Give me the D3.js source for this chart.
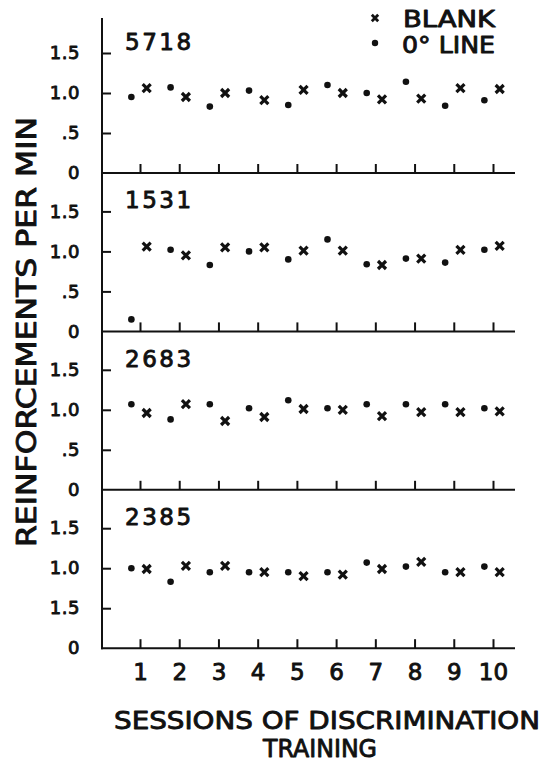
<!DOCTYPE html>
<html>
<head>
<meta charset="utf-8">
<script src="https://cdn.jsdelivr.net/npm/d3@7"></script>
<style>
  html, body { margin: 0; padding: 0; background: #fff; }
  svg { display: block; }
  text { fill: #111; font-family: "DejaVu Sans", sans-serif; }
</style>
</head>
<body>
<svg id="chart" width="546" height="763"></svg>
<script>
// ---------------- data ----------------
const sessions = [1, 2, 3, 4, 5, 6, 7, 8, 9, 10];
const subjects = ["5718", "1531", "2683", "2385"];
const lineValues = [   // "0° LINE" (dots)
  [0.95, 1.07, 0.83, 1.03, 0.85, 1.10, 1.00, 1.14, 0.84, 0.91],
  [0.15, 1.02, 0.83, 1.00, 0.90, 1.15, 0.84, 0.91, 0.86, 1.02],
  [1.07, 0.88, 1.07, 1.02, 1.12, 1.02, 1.07, 1.07, 1.07, 1.02],
  [1.00, 0.83, 0.95, 0.95, 0.95, 0.95, 1.07, 1.02, 0.95, 1.02]
];
const blankValues = [  // "BLANK" (crosses)
  [1.06, 0.95, 1.00, 0.91, 1.04, 1.00, 0.92, 0.93, 1.06, 1.05],
  [1.06, 0.95, 1.05, 1.05, 1.01, 1.01, 0.83, 0.91, 1.02, 1.07],
  [0.96, 1.07, 0.86, 0.91, 1.01, 1.00, 0.92, 0.97, 0.97, 0.98],
  [0.99, 1.03, 1.03, 0.95, 0.90, 0.92, 0.99, 1.08, 0.95, 0.95]
];
const yTickValues = [0, 0.5, 1.0, 1.5];
const yTickLabels = [
  ["0", ".5", "1.0", "1.5"],
  ["0", ".5", "1.0", "1.5"],
  ["0", ".5", "1.0", "1.5"],
  ["0", "1.5", "1.0", "1.5"]
];
const xTickLabels = ["1", "2", "3", "4", "5", "6", "7", "8", "9", "10"];
const legendLabels = ["BLANK", "0° LINE"];
const yTitle = "REINFORCEMENTS PER MIN";
const xTitle = ["SESSIONS OF DISCRIMINATION", "TRAINING"];

// ---------------- layout ----------------
const svg = d3.select("#chart");
const axisLeftX = 102, axisRightX = 515;
const axisTop = 18;
const firstBottom = 173, panelStep = 158.4, panelH = 120;
const dotOffset = -0.22, crossOffset = 0.17;
const ink = "#111";

const x = d3.scaleLinear().domain([1, 10]).range([140, 493]);

function styleText(sel, size) {
  sel.attr("font-size", size)
     .attr("font-family", "DejaVu Sans, sans-serif")
     .attr("font-weight", "normal")
     .attr("fill", ink)
     .attr("stroke", ink)
     .attr("stroke-width", 0.9)
     .attr("stroke-linejoin", "round");
  return sel;
}

subjects.forEach((name, i) => {
  const bottom = firstBottom + i * panelStep;
  const y = d3.scaleLinear().domain([0, 1.5]).range([bottom, bottom - panelH]);
  const g = svg.append("g");

  // baseline
  g.append("line")
    .attr("x1", axisLeftX - 1).attr("x2", axisRightX)
    .attr("y1", bottom).attr("y2", bottom)
    .attr("stroke", ink).attr("stroke-width", 2);

  // y axis ticks (inside) + labels
  const yAxis = d3.axisLeft(y)
    .tickValues(yTickValues)
    .tickSize(-9)
    .tickPadding(22)
    .tickFormat((d, k) => yTickLabels[i][k]);
  const ya = g.append("g").attr("transform", `translate(${axisLeftX},0)`).call(yAxis);
  ya.select(".domain").remove();
  ya.selectAll(".tick line").attr("stroke", ink).attr("stroke-width", 2)
    .filter(d => d === 0).remove();
  styleText(ya.selectAll(".tick text"), 18).attr("letter-spacing", 0.5);

  // x axis ticks (pointing up)
  const xAxis = d3.axisBottom(x)
    .tickValues(sessions)
    .tickSize(-9)
    .tickPadding(15)
    .tickFormat((d, k) => i === subjects.length - 1 ? xTickLabels[k] : "");
  const xa = g.append("g").attr("transform", `translate(0,${bottom})`).call(xAxis);
  xa.select(".domain").remove();
  xa.selectAll(".tick line").attr("stroke", ink).attr("stroke-width", 2);
  styleText(xa.selectAll(".tick text"), 23);

  // subject label
  styleText(g.append("text"), 23)
    .attr("x", 125).attr("y", bottom - 123)
    .attr("letter-spacing", 2.5)
    .text(name);

  // dots (0° line)
  g.selectAll("circle.dot").data(lineValues[i]).enter().append("circle")
    .attr("class", "dot")
    .attr("cx", (d, k) => x(sessions[k] + dotOffset))
    .attr("cy", d => y(d))
    .attr("r", 3.3).attr("fill", ink);

  // crosses (blank)
  const cs = 4;
  g.selectAll("path.cross").data(blankValues[i]).enter().append("path")
    .attr("class", "cross")
    .attr("transform", (d, k) => `translate(${x(sessions[k] + crossOffset)},${y(d)})`)
    .attr("d", `M${-cs},${-cs}L${cs},${cs}M${-cs},${cs}L${cs},${-cs}`)
    .attr("stroke", ink).attr("stroke-width", 3.2).attr("fill", "none");
});

// vertical axis line
svg.append("line")
  .attr("x1", axisLeftX).attr("x2", axisLeftX)
  .attr("y1", axisTop).attr("y2", firstBottom + (subjects.length - 1) * panelStep + 1)
  .attr("stroke", ink).attr("stroke-width", 2);

// legend
const lg = svg.append("g");
const cs2 = 3.2;
lg.append("path")
  .attr("transform", "translate(375,18)")
  .attr("d", `M${-cs2},${-cs2}L${cs2},${cs2}M${-cs2},${cs2}L${cs2},${-cs2}`)
  .attr("stroke", ink).attr("stroke-width", 2.8);
lg.append("circle").attr("cx", 375).attr("cy", 43).attr("r", 3.2).attr("fill", ink);
styleText(lg.append("text"), 23).attr("x", 403).attr("y", 27)
  .attr("textLength", 92).attr("lengthAdjust", "spacingAndGlyphs")
  .text(legendLabels[0]);
styleText(lg.append("text"), 23).attr("x", 402).attr("y", 53)
  .attr("textLength", 93).attr("lengthAdjust", "spacingAndGlyphs")
  .text(legendLabels[1]);

// y title
styleText(svg.append("text"), 27)
  .attr("transform", "translate(36,332) rotate(-90)")
  .attr("text-anchor", "middle")
  .attr("textLength", 430).attr("lengthAdjust", "spacingAndGlyphs")
  .text(yTitle);

// x title
styleText(svg.append("text"), 25)
  .attr("x", 327).attr("y", 729)
  .attr("text-anchor", "middle")
  .attr("textLength", 426).attr("lengthAdjust", "spacingAndGlyphs")
  .text(xTitle[0]);
styleText(svg.append("text"), 25)
  .attr("x", 320).attr("y", 757)
  .attr("text-anchor", "middle")
  .attr("textLength", 114).attr("lengthAdjust", "spacingAndGlyphs")
  .text(xTitle[1]);
</script>
</body>
</html>
